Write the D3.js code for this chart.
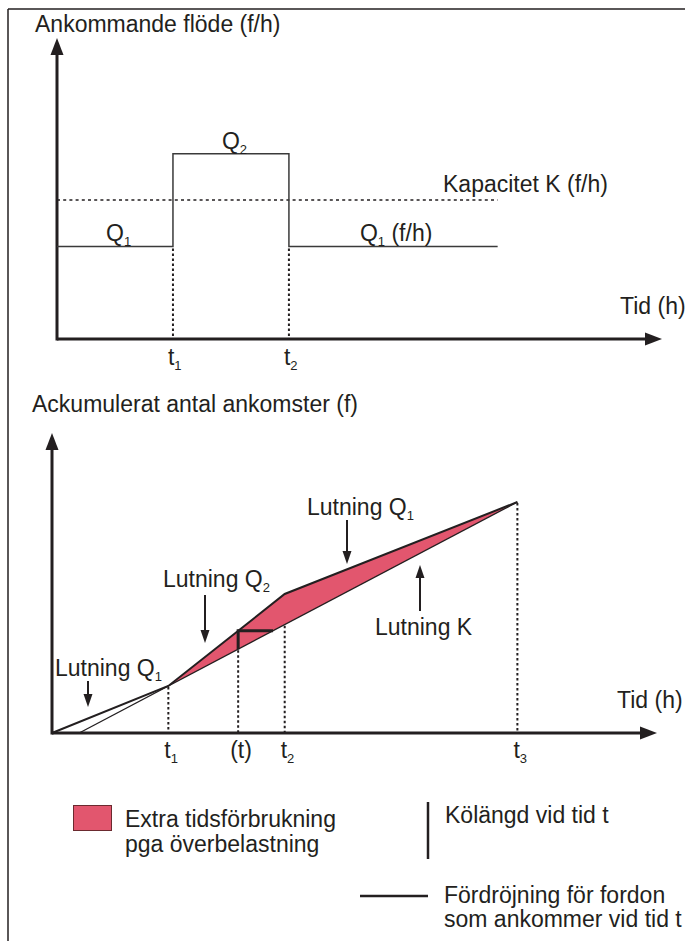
<!DOCTYPE html>
<html>
<head>
<meta charset="utf-8">
<script src="https://cdn.jsdelivr.net/npm/d3@7"></script>
<style>
  body { margin: 0; background: #fff; }
  text { font-family: "Liberation Sans", Arial, sans-serif; fill: #231f20; }
</style>
</head>
<body>
<div id="chart"></div>
<script>
// Top diagram: arriving flow as a step function
var flowTimes = [0, 2, 4, 7.6];
var flowLevels = [1, 2, 1, 1];      // Q1, Q2, Q1
var capacityLevel = 1.5;            // K
var flowTicks = [2, 4];             // t1, t2

// Bottom diagram: cumulative arrivals
var cumTimes = [0, 2, 4, 8];        // 0, t1, t2, t3
var cumArrivals = [0, 47, 139, 231];
var queueTime = 3.2;                // (t)
var cumTicks = [2, 3.2, 4, 8];
var cumTickNames = [["t", "1"], ["(t)", ""], ["t", "2"], ["t", "3"]];

var ink = "#231f20";
var pink = "#e2566e";

var width = 685, height = 941;

var svg = d3.select("#chart")
    .append("svg")
    .attr("width", width)
    .attr("height", height);

//Frame (only top and left edges show)
svg.append("line").attr("x1", 8).attr("y1", 9).attr("x2", width).attr("y2", 9)
    .attr("stroke", ink).attr("stroke-width", 1.5);
svg.append("line").attr("x1", 8).attr("y1", 9).attr("x2", 8).attr("y2", height)
    .attr("stroke", ink).attr("stroke-width", 1.5);

//Helper for text with a subscript (and optional trailing text)
function label(x, y, main, sub, rest) {
    var t = svg.append("text")
        .attr("x", x).attr("y", y)
        .attr("font-size", "23px");
    t.append("tspan").text(main);
    if (sub) {
        t.append("tspan").attr("font-size", "13px").attr("dy", 5).text(sub);
        if (rest) t.append("tspan").attr("dy", -5).text(rest);
    }
    return t;
}

function arrowHead(x, y, dir, len, half) {
    var pts;
    if (dir == "up") pts = [[x, y], [x - half, y + len], [x + half, y + len]];
    if (dir == "down") pts = [[x, y], [x - half, y - len], [x + half, y - len]];
    if (dir == "right") pts = [[x, y], [x - len, y - half], [x - len, y + half]];
    svg.append("polygon").attr("points", pts.map(function (p) { return p.join(","); }).join(" "))
        .attr("fill", ink);
}

function arrow(x, y1, y2) {
    //vertical arrow from y1 to the tip at y2
    var dir = y2 > y1 ? "down" : "up";
    svg.append("line").attr("x1", x).attr("x2", x)
        .attr("y1", y1).attr("y2", dir == "down" ? y2 - 10 : y2 + 10)
        .attr("stroke", ink).attr("stroke-width", 2);
    arrowHead(x, y2, dir, 13, 4.5);
}

function dotted(x1, y1, x2, y2) {
    svg.append("line")
        .attr("x1", x1).attr("y1", y1).attr("x2", x2).attr("y2", y2)
        .attr("stroke", ink).attr("stroke-width", 2)
        .attr("stroke-dasharray", "2.5,2.5");
}

// ---------- Top diagram ----------
var x1 = d3.scaleLinear().domain([0, 10.4]).range([57, 660]);
var y1 = d3.scaleLinear().domain([0, 3.25]).range([339, 38]);

//Axes
svg.append("line").attr("x1", x1(0)).attr("y1", y1(0)).attr("x2", x1(10.4) - 12).attr("y2", y1(0))
    .attr("stroke", ink).attr("stroke-width", 3);
arrowHead(x1(10.4) + 2, y1(0), "right", 17, 6.5);
svg.append("line").attr("x1", x1(0)).attr("y1", y1(0) + 1.5).attr("x2", x1(0)).attr("y2", y1(3.25) + 12)
    .attr("stroke", ink).attr("stroke-width", 3);
arrowHead(x1(0), y1(3.25), "up", 17, 6.5);

//Capacity line
svg.append("line")
    .attr("x1", x1(0)).attr("x2", x1(7.6))
    .attr("y1", y1(capacityLevel)).attr("y2", y1(capacityLevel))
    .attr("stroke", ink).attr("stroke-width", 1.5)
    .attr("stroke-dasharray", "3,3.2");

//Flow step line
var stepLine = d3.line()
    .x(function (d, i) { return x1(flowTimes[i]); })
    .y(function (d) { return y1(d); })
    .curve(d3.curveStepAfter);
svg.append("path")
    .datum(flowLevels)
    .attr("d", stepLine)
    .attr("fill", "none")
    .attr("stroke", "#3a3a3a")
    .attr("stroke-width", 1.5);

//Dotted markers at t1, t2
flowTicks.forEach(function (t) {
    dotted(x1(t), y1(1) + 2, x1(t), y1(0));
});

label(35, 32, "Ankommande flöde (f/h)");
label(x1(2) + 49, 149, "Q", "2");
label(x1(0) + 49, 241, "Q", "1");
label(x1(4) + 71, 241, "Q", "1", " (f/h)");
label(443, 192, "Kapacitet K (f/h)");
label(620, 314, "Tid (h)");
flowTicks.forEach(function (t, i) {
    label(x1(t) - 5, 365, "t", String(i + 1));
});

// ---------- Bottom diagram ----------
var x2 = d3.scaleLinear().domain([0, 10.4]).range([52, 657]);
var y2 = d3.scaleLinear().domain([0, 300]).range([733, 433]);

//Capacity (departure) line K through (t1, A(t1)) and (t3, A(t3))
var kSlope = (cumArrivals[3] - cumArrivals[1]) / (cumTimes[3] - cumTimes[1]);
function departures(t) { return cumArrivals[1] + kSlope * (t - cumTimes[1]); }
function arrivals(t) {
    for (var i = 1; i < cumTimes.length; i++) {
        if (t <= cumTimes[i]) {
            var f = (t - cumTimes[i - 1]) / (cumTimes[i] - cumTimes[i - 1]);
            return cumArrivals[i - 1] + f * (cumArrivals[i] - cumArrivals[i - 1]);
        }
    }
    return cumArrivals[cumArrivals.length - 1];
}

//Filled area between arrivals and capacity
var areaPts = [];
for (var i = 1; i < cumTimes.length; i++) areaPts.push([cumTimes[i], cumArrivals[i]]);
svg.append("path")
    .datum(areaPts)
    .attr("d", d3.line().x(function (d) { return x2(d[0]); }).y(function (d) { return y2(d[1]); }))
    .attr("fill", pink)
    .attr("stroke", "none");

//Lower capacity line (also extended back to the time axis)
var kStart = cumTimes[1] - cumArrivals[1] / kSlope;
svg.append("line")
    .attr("x1", x2(kStart)).attr("y1", y2(0))
    .attr("x2", x2(cumTimes[3])).attr("y2", y2(cumArrivals[3]))
    .attr("stroke", ink).attr("stroke-width", 1.3);

//Cumulative arrivals curve
svg.append("path")
    .datum(cumArrivals)
    .attr("d", d3.line()
        .x(function (d, i) { return x2(cumTimes[i]); })
        .y(function (d) { return y2(d); }))
    .attr("fill", "none")
    .attr("stroke", ink)
    .attr("stroke-width", 2);

//Dotted markers
cumTicks.forEach(function (t) {
    dotted(x2(t), y2(departures(t)) + 1, x2(t), y2(0));
});

//Queue length and delay at (t)
var aq = arrivals(queueTime);
var tDelay = cumTimes[1] + (aq - cumArrivals[1]) / kSlope;
svg.append("path")
    .attr("d", "M" + x2(queueTime) + "," + y2(departures(queueTime)) +
        "L" + x2(queueTime) + "," + y2(aq) +
        "L" + x2(tDelay) + "," + y2(aq))
    .attr("fill", "none")
    .attr("stroke", ink)
    .attr("stroke-width", 3);

//Axes
svg.append("line").attr("x1", x2(0)).attr("y1", y2(0)).attr("x2", x2(10.4) - 12).attr("y2", y2(0))
    .attr("stroke", ink).attr("stroke-width", 3);
arrowHead(x2(10.4), y2(0), "right", 17, 6.5);
svg.append("line").attr("x1", x2(0)).attr("y1", y2(0) + 1.5).attr("x2", x2(0)).attr("y2", y2(300) + 12)
    .attr("stroke", ink).attr("stroke-width", 3);
arrowHead(x2(0), y2(300), "up", 17, 6.5);

//Tick labels
cumTicks.forEach(function (t, i) {
    var nm = cumTickNames[i];
    label(x2(t) - (nm[1] ? 4 : 8), 758, nm[0], nm[1]);
});

label(32, 412, "Ackumulerat antal ankomster (f)");
label(617, 708, "Tid (h)");

//Slope annotations
label(307, 515, "Lutning Q", "1");
arrow(347, 520, 564);
label(163, 587, "Lutning Q", "2");
arrow(205, 595, 643);
label(55, 676, "Lutning Q", "1");
arrow(88, 681, 707);
label(375, 635, "Lutning K");
arrow(420, 611, 565);

// ---------- Legend ----------
svg.append("rect")
    .attr("x", 73.5).attr("y", 805.5).attr("width", 38).attr("height", 25)
    .attr("fill", pink).attr("stroke", "#6b2a2f").attr("stroke-width", 1);
label(125, 827, "Extra tidsförbrukning");
label(125, 852, "pga överbelastning");

svg.append("line").attr("x1", 428).attr("x2", 428).attr("y1", 802).attr("y2", 859)
    .attr("stroke", ink).attr("stroke-width", 2.5);
label(445, 823, "Kölängd vid tid t");

svg.append("line").attr("x1", 360).attr("x2", 428).attr("y1", 896).attr("y2", 896)
    .attr("stroke", ink).attr("stroke-width", 2.5);
label(444, 903, "Fördröjning för fordon");
label(444, 927, "som ankommer vid tid t");
</script>
</body>
</html>
